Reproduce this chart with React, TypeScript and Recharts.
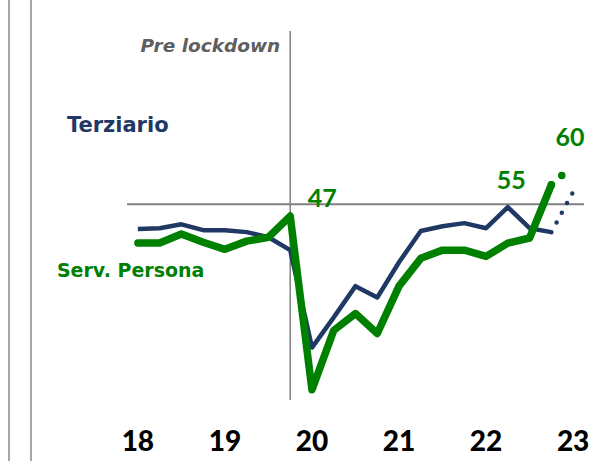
import { LineChart, Line, XAxis, YAxis, ReferenceLine, ReferenceDot } from "recharts";

const QUARTERS = [
  "2018Q1", "2018Q2", "2018Q3", "2018Q4",
  "2019Q1", "2019Q2", "2019Q3", "2019Q4",
  "2020Q1", "2020Q2", "2020Q3", "2020Q4",
  "2021Q1", "2021Q2", "2021Q3", "2021Q4",
  "2022Q1", "2022Q2", "2022Q3", "2022Q4",
  "2023Q1",
];

const TERZIARIO = [43.7, 43.9, 44.9, 43.4, 43.4, 42.9, 41.6, 38.3, 13.4, 21.1, 29.1, 26.2, 35.2, 43.2, 44.4, 45.2, 43.9, 49.3, 43.9, 42.9];
const SERV_PERSONA = [40.1, 40.1, 42.4, 40.3, 38.5, 40.6, 41.6, 47, 2.6, 17.8, 22.1, 17.0, 29.1, 36.2, 38.3, 38.3, 36.7, 40.1, 41.4, 55];

// last actual + 2023 outlook (dotted)
const TERZIARIO_OUTLOOK = [42.9, 53.2];
const SERV_PERSONA_OUTLOOK = [55, 60];

const YEAR_TICKS = [0, 4, 8, 12, 16, 20];
const YEAR_LABELS = ["18", "19", "20", "21", "22", "23"];

const THRESHOLD = 50;
const LOCKDOWN_INDEX = 7;

const NAVY = "#1f3864";
const GREEN = "#008000";
const GREY = "#808080";

const data = QUARTERS.map((q, i) => ({
  i,
  q,
  terziario: i < TERZIARIO.length ? TERZIARIO[i] : null,
  persona: i < SERV_PERSONA.length ? SERV_PERSONA[i] : null,
  terziarioF: i >= TERZIARIO.length - 1 ? TERZIARIO_OUTLOOK[i - (TERZIARIO.length - 1)] : null,
  personaF: i >= SERV_PERSONA.length - 1 ? SERV_PERSONA_OUTLOOK[i - (SERV_PERSONA.length - 1)] : null,
}));

const FONT = "'DejaVu Sans', sans-serif";

function note(text: string, dx: number, dy: number, style: any) {
  return (props: any) => {
    const vb = props.viewBox || {};
    return (
      <text x={vb.x + dx} y={vb.y + dy} {...style}>
        {text}
      </text>
    );
  };
}

function YearTick({ x, y, payload }: any) {
  const idx = YEAR_TICKS.indexOf(payload.value);
  return (
    <text x={x} y={y} dy={51} textAnchor="middle" fontFamily="Lato, sans-serif" fontWeight={900} fontSize={28} fill="#000">
      {YEAR_LABELS[idx]}
    </text>
  );
}

const numStyle = { fontFamily: "Lato, sans-serif", fontWeight: 700, fontSize: 25, fill: GREEN, textAnchor: "middle" };

export default function App() {
  return (
    <div style={{ position: "absolute", left: 0, top: 0, width: 606, height: 461, background: "#fff" }}>
      <div style={{ position: "absolute", left: 8, top: 0, width: 2, height: 461, background: "#a6a6a6" }} />
      <div style={{ position: "absolute", left: 30, top: 0, width: 2, height: 461, background: "#a6a6a6" }} />
      <LineChart width={606} height={461} data={data} margin={{ top: 31, right: 22, bottom: 11, left: 127 }}>
        <XAxis
          dataKey="i"
          type="number"
          domain={[-0.5, 20.5]}
          ticks={YEAR_TICKS}
          axisLine={false}
          tickLine={false}
          tickSize={0}
          tickMargin={0}
          height={50}
          tick={<YearTick />}
          interval={0}
        />
        <YAxis hide domain={[0, 94.3]} />
        <ReferenceLine y={THRESHOLD} stroke={GREY} strokeWidth={2} />
        <ReferenceLine
          x={LOCKDOWN_INDEX}
          stroke={GREY}
          strokeWidth={1.5}
          label={note("Pre lockdown", -10, 21, {
            fontFamily: FONT, fontWeight: 700, fontStyle: "italic", fontSize: 18.5, fill: "#5f5f5f", textAnchor: "end",
          })}
        />
        <Line dataKey="terziario" stroke={NAVY} strokeWidth={4.5} dot={false} strokeLinejoin="round" isAnimationActive={false} />
        <Line dataKey="terziarioF" stroke={NAVY} strokeWidth={4.5} strokeDasharray="0 11" strokeLinecap="round" dot={false} isAnimationActive={false} />
        <Line dataKey="persona" stroke={GREEN} strokeWidth={7.5} dot={false} strokeLinejoin="round" strokeLinecap="round" isAnimationActive={false} />
        <Line dataKey="personaF" stroke={GREEN} strokeWidth={7.5} strokeDasharray="0 14 0 200" strokeLinecap="round" dot={false} isAnimationActive={false} />
        <ReferenceDot x={0} y={TERZIARIO[0]} r={0} fill="none" stroke="none"
          label={note("Terziario", -71, -97, { fontFamily: FONT, fontWeight: 700, fontSize: 21, fill: NAVY })} />
        <ReferenceDot x={0} y={SERV_PERSONA[0]} r={0} fill="none" stroke="none"
          label={note("Serv. Persona", -81, 34, { fontFamily: FONT, fontWeight: 700, fontSize: 19, fill: GREEN })} />
        <ReferenceDot x={LOCKDOWN_INDEX} y={SERV_PERSONA[LOCKDOWN_INDEX]} r={0} fill="none" stroke="none"
          label={note(String(SERV_PERSONA[LOCKDOWN_INDEX]), 32, -9, numStyle)} />
        <ReferenceDot x={19} y={SERV_PERSONA[19]} r={0} fill="none" stroke="none"
          label={note(String(SERV_PERSONA[19]), -40, 4, numStyle)} />
        <ReferenceDot x={20} y={SERV_PERSONA_OUTLOOK[1]} r={0} fill="none" stroke="none"
          label={note(String(SERV_PERSONA_OUTLOOK[1]), -3, -19, numStyle)} />
      </LineChart>
    </div>
  );
}
